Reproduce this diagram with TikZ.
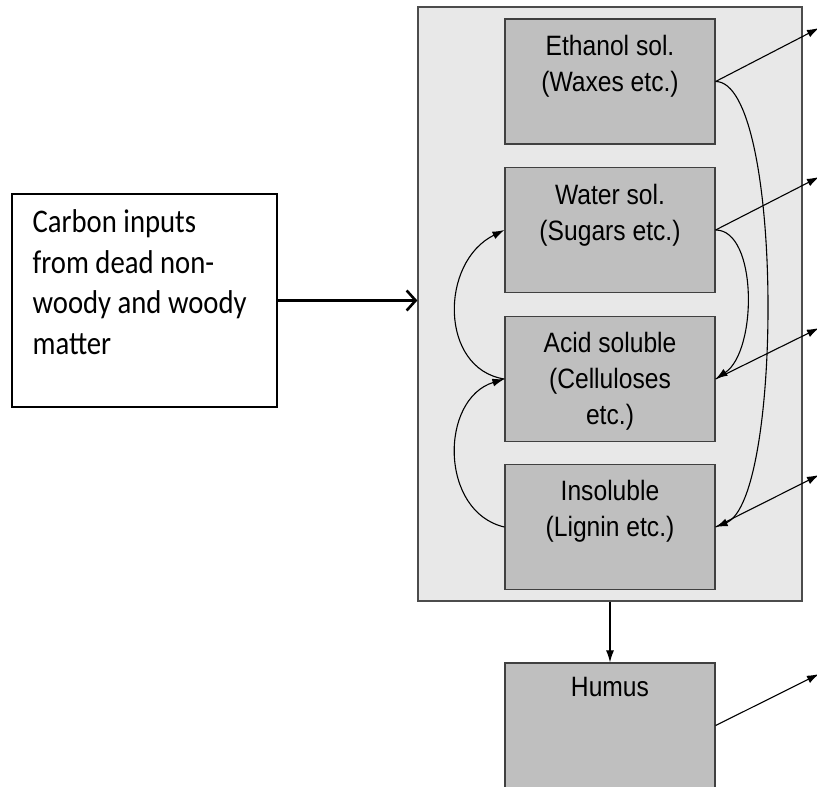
\documentclass[tikz,border=0pt]{standalone}
\usepackage{fontspec}
\setmainfont{Liberation Sans}[FakeStretch=0.88]
\newfontfamily\calfont{Carlito}[FakeStretch=0.87]
\usetikzlibrary{positioning,arrows.meta}

\tikzset{
    pool/.style={draw=black!75,line width=1.2pt,fill=black!25,minimum width=210,minimum height=125,inner sep=0},
    pooltext/.style={align=center,inner sep=0,font=\fontsize{28}{36}\selectfont},
    flow/.style={line width=1.1pt,-{Latex[length=12pt,width=8pt]}},
}

\begin{document}
\begin{tikzpicture}[x=1pt,y=-1pt]
    \useasboundingbox(0,0)rectangle(817,787);
    % soil pools
    \node[draw=black!70,line width=1.2pt,fill=black!9,minimum width=384,minimum height=594,inner sep=0](main)at(610,304){};
    \node[pool](eth)at(610,81.5){};
    \node[pool](water)at(610,230){};
    \node[pool](acid)at(610,379){};
    \node[pool](ins)at(610,527){};
    \node[pool](hum)at(610,725.5){};
    \node[pooltext,below=17pt of eth.north](eth-t){Ethanol sol.\\(Waxes etc.)};
    \node[pooltext,below=17pt of water.north](water-t){Water sol.\\(Sugars etc.)};
    \node[pooltext,below=16pt of acid.north](acid-t){Acid soluble\\(Celluloses\\etc.)};
    \node[pooltext,below=16pt of ins.north](ins-t){Insoluble\\(Lignin etc.)};
    \node[pooltext,below=15pt of hum.north](hum-t){Humus};
    % inputs
    \node[draw,line width=1.2pt,minimum width=265,minimum height=213,inner sep=0](inp)at(144.5,300.5){};
    \node[below right=16pt and 21pt of inp.north west,anchor=north west,inner sep=0,align=left,font=\calfont\fontsize{33}{40.5}\selectfont](inp-t){Carbon inputs\\from dead non-\\woody and woody\\matter};
    \draw[line width=2.6pt,-{Straight Barb[length=9pt,width=20pt]}](inp.east)--(inp.east-|main.west);
    % transfers between pools
    \draw[flow](acid.west)..controls+(-65,-10)and+(-65,32)..(water.west);
    \draw[flow](ins.west)..controls+(-65,-15)and+(-65,20)..(acid.west);
    \draw[flow](water.east)..controls+(42,0)and+(42,-28)..(acid.east);
    \draw[flow](eth.east)..controls+(68,0)and+(68,-27)..(ins.east);
    \draw[flow](main.south)--(hum.north);
    % losses
    \coordinate(co2a)at(819,28);
    \coordinate(co2b)at(819,177);
    \coordinate(co2c)at(819,328);
    \coordinate(co2d)at(819,475);
    \coordinate(co2e)at(819,674);
    \draw[flow](eth.east)--(co2a);
    \draw[flow](water.east)--(co2b);
    \draw[flow](acid.east)--(co2c);
    \draw[flow](ins.east)--(co2d);
    \draw[flow](hum.east)--(co2e);
\end{tikzpicture}
\end{document}
